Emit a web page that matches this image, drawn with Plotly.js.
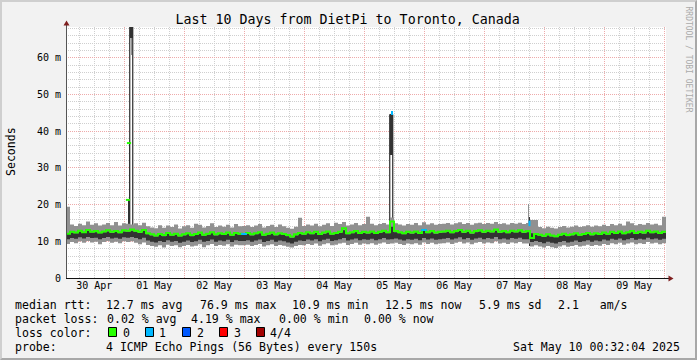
<!DOCTYPE html>
<html><head><meta charset="utf-8">
<script src="https://cdn.plot.ly/plotly-3.0.1.min.js"></script>
<style>
html,body{margin:0;padding:0;background:#f2f2f2;}
#wrap{position:relative;width:697px;height:360px;overflow:hidden;}
#chart{width:697px;height:360px;}
#frame{position:absolute;left:0;top:0;width:697px;height:360px;box-sizing:border-box;border:2px solid;border-color:#cfcfcf #a8a8a8 #a8a8a8 #cfcfcf;pointer-events:none;}
</style></head><body>
<div id="wrap"><div id="chart"></div><div id="frame"></div></div>
<script>
// ---------- DATA (values in ms) ----------
const titleText = "Last 10 Days from DietPi to Toronto, Canada";
const rangeStart = "2025-04-30 00:41:00";
const rangeEnd = "2025-05-10 00:41:00";
const binMinutes = 96; // one value per 96 minutes

const medianRtt = [
12.1,12.6,12.4,12.9,12.5,13.1,12.6,12.8,12.4,12.7,13.0,12.6,12.8,12.5,13.0,
12.9,13.2,
12.9,12.6,13.1,
12.2,11.9,11.6,12.0,11.7,12.3,11.8,12.1,11.6,11.9,12.2,11.7,12.0,12.4,11.8,12.1,12.5,11.9,12.2,12.0,12.4,11.8,12.3,12.1,
12.0,12.3,11.9,12.2,12.5,11.8,12.1,12.4,11.9,12.2,12.0,11.7,11.3,11.9,12.3,
12.1,12.5,12.2,12.6,12.0,12.4,12.7,12.1,12.3,12.6,13.6,12.2,12.5,12.8,12.3,12.6,
12.4,12.7,12.3,12.6,12.9,12.5,
15.4,
12.8,12.5,12.2,12.6,12.4,12.7,12.3,13.1,12.5,12.8,12.4,12.6,
12.7,12.9,12.5,12.8,13.1,12.6,12.9,12.4,12.8,13.0,12.6,12.9,12.7,13.2,12.6,12.8,12.5,12.9,12.7,13.0,12.6,
12.8,10.9,12.0,
11.8,11.5,11.9,11.6,11.4,11.8,12.1,11.7,11.9,12.2,11.8,12.0,12.3,11.9,12.2,12.0,
12.4,12.1,12.6,12.3,12.7,12.2,12.5,12.8,12.3,12.6,12.4,12.9,12.5,12.7,12.3,12.6];

const pingMax = [
19.4,14.6,14.2,14.8,14.4,15.4,14.5,14.9,14.3,14.6,15.0,14.4,15.3,14.3,14.9,
14.8,14.6,
14.9,14.4,15.1,
14.1,13.8,13.6,14.4,13.7,14.3,13.9,14.6,13.5,14.1,14.4,13.7,14.8,14.5,13.8,14.2,14.9,13.9,14.3,14.0,14.5,13.8,14.7,14.1,
14.2,14.4,13.9,14.3,14.7,13.8,14.2,14.5,13.9,14.6,14.1,13.7,13.4,14.0,16.4,
14.2,14.6,14.3,14.8,14.1,14.5,14.9,14.2,15.1,14.7,15.3,14.3,14.6,15.0,14.4,14.7,
16.7,14.8,14.4,14.7,15.0,14.6,
16.5,
14.9,14.6,14.3,14.7,14.5,15.0,14.4,15.2,14.6,14.9,14.5,14.7,
14.8,15.0,14.6,14.9,15.2,14.7,15.0,14.5,14.9,15.1,14.7,15.0,14.8,15.3,14.7,14.9,14.6,15.0,14.8,15.1,14.7,
15.0,15.8,15.8,
13.9,13.6,14.0,13.7,13.5,13.9,14.2,13.8,14.0,14.3,13.9,14.1,14.4,14.0,14.3,14.1,
14.5,14.2,14.7,14.4,14.8,14.3,15.4,14.9,14.4,14.7,14.5,15.0,14.6,14.8,14.4,16.7];

const pingUpper = [
12.0,12.4,12.2,12.6,12.3,12.8,12.4,12.5,12.2,12.5,12.7,12.3,12.6,12.2,12.7,
12.6,12.9,
12.6,12.3,12.8,
11.9,11.6,11.3,11.7,11.4,12.0,11.5,11.8,11.3,11.6,11.9,11.4,11.7,12.1,11.5,11.8,12.2,11.6,11.9,11.7,12.1,11.5,12.0,11.8,
11.9,12.0,11.6,11.9,12.2,11.5,11.8,12.1,11.6,11.9,11.7,11.4,11.0,11.6,12.0,
11.8,12.2,11.9,12.3,11.7,12.1,12.4,11.8,12.0,12.3,13.0,11.9,12.2,12.5,12.0,12.3,
12.1,12.4,12.0,12.3,12.6,12.2,
14.0,
12.5,12.2,11.9,12.3,12.1,12.4,12.0,12.8,12.2,12.5,12.1,12.3,
12.4,12.6,12.2,12.5,12.8,12.3,12.6,12.1,12.5,12.7,12.3,12.6,12.4,12.9,12.3,12.5,12.2,12.6,12.4,12.7,12.3,
12.5,12.2,11.8,
11.5,11.2,11.6,11.3,11.1,11.5,11.8,11.4,11.6,11.9,11.5,11.7,12.0,11.6,11.9,11.7,
12.1,11.8,12.3,12.0,12.4,11.9,12.2,12.5,12.0,12.3,12.1,12.6,12.2,12.4,12.0,12.3];

const pingLower = [
10.6,10.9,10.7,11.1,10.8,11.2,10.9,11.0,10.6,10.9,11.2,10.8,11.0,10.7,11.1,
11.0,11.2,
10.9,10.6,11.0,
10.2,9.9,9.7,10.1,9.8,10.3,9.9,10.1,9.6,9.9,10.2,9.8,10.0,10.4,9.9,10.1,10.5,9.9,10.2,10.0,10.4,9.8,10.3,10.1,
10.1,10.3,9.9,10.2,10.5,9.8,10.1,10.4,9.9,10.2,10.0,9.7,9.4,9.9,10.2,
10.1,10.5,10.2,10.6,10.0,10.4,10.7,10.1,10.3,10.6,10.9,10.2,10.5,10.8,10.3,10.6,
10.4,10.7,10.3,10.6,10.9,10.5,
10.6,
10.8,10.5,10.2,10.6,10.4,10.7,10.3,10.9,10.5,10.8,10.4,10.6,
10.7,10.9,10.5,10.8,11.1,10.6,10.9,10.4,10.8,11.0,10.6,10.9,10.7,11.2,10.6,10.8,10.5,10.9,10.7,11.0,10.6,
10.6,9.8,10.1,
9.8,9.5,9.9,9.6,9.4,9.8,10.1,9.7,9.9,10.2,9.8,10.0,10.3,9.9,10.2,10.0,
10.5,10.2,10.7,10.4,10.8,10.3,10.6,10.9,10.4,10.7,10.5,11.0,10.6,10.8,10.4,10.7];

const pingMin = [
9.3,9.8,9.5,10.0,9.6,10.1,9.7,9.9,9.2,9.8,10.1,9.6,9.9,9.5,10.0,
9.8,10.0,
9.6,9.2,9.7,
9.0,8.7,8.5,8.9,8.3,9.1,8.7,8.9,8.4,8.7,9.0,8.6,8.8,9.2,8.4,8.9,9.3,8.7,9.0,8.8,9.2,8.6,9.1,8.9,
8.9,9.1,8.7,9.0,9.3,8.6,8.9,9.2,8.7,9.0,8.8,8.5,8.3,8.7,9.0,
8.9,9.3,9.0,9.4,8.8,9.2,9.5,8.9,9.1,9.4,9.6,9.0,9.3,9.6,9.1,9.4,
9.2,9.5,9.1,9.4,9.7,9.3,
9.4,
9.6,9.3,9.0,9.4,9.2,9.5,9.1,9.7,9.3,9.6,9.2,9.4,
9.5,9.7,9.3,9.6,9.9,9.4,9.7,9.2,9.6,9.8,9.4,9.7,9.5,10.0,9.4,9.6,9.3,9.7,9.5,9.8,9.4,
9.4,8.6,8.9,
8.6,8.3,8.7,8.4,8.2,8.6,8.9,8.5,8.7,9.0,8.6,8.8,9.1,8.7,9.0,8.8,
9.3,9.0,9.5,9.2,9.6,9.1,9.4,9.7,9.2,9.5,9.3,9.8,9.4,9.6,9.2,9.5];

// bins where pings were lost (index into the arrays above) and how many of 4
const lossBinIndex = [44, 89];
const lossCount = [1, 1];

// tall spikes (one pixel column ~ 24 minutes)
const spikeTimes = ["2025-05-01 02:48", "2025-05-05 10:48"];
const spikeTop = [76.9, 44.6];
const spikeDarkFrom = [65.4, 33.5];
const spikeGrayTimes = ["2025-05-01 02:48"];
const spikeGrayLow = [60.8];
const spikeGrayHigh = [65.4];
const capTimes = ["2025-05-05 11:05"];
const capLow = [44.5];
const capHigh = [45.6];
const preSpikeTimes = ["2025-05-01 01:29", "2025-05-01 01:53"];
const preSpikeTop = [21.3, 36.8];
// small spike on 07 May
const smallSpikeGrayTime = ["2025-05-07 17:41"];
const smallSpikeGrayTop = [20.2];
const smallSpikeDarkTime = ["2025-05-07 18:05"];
const smallSpikeDarkLow = [8.6];
const smallSpikeDarkTop = [16.7];
const smallSpikeMedian = [14.9];
const smallSpikeLoss = [1];

const yTickVals = [0, 10, 20, 30, 40, 50, 60];
const yTickText = ["0", "10 m", "20 m", "30 m", "40 m", "50 m", "60 m"];

const lossColors = ["#26ff00", "#00b8ff", "#0059ff", "#ff0000", "#a10000"];
const lossLabels = ["0", "1", "2", "3", "4/4"];
const rowLabels = ["median rtt:", "packet loss:", "loss color:", "probe:"];
const medianStats = ["12.7 ms avg", "76.9 ms max", "10.9 ms min", "12.5 ms now", "5.9 ms sd", "2.1   am/s"];
const lossStats = ["0.02 % avg", "4.19 % max", "0.00 % min", "0.00 % now"];
const probeText = "4 ICMP Echo Pings (56 Bytes) every 150s";
const dateText = "Sat May 10 00:32:04 2025";
const watermark = "RRDTOOL / TOBI OETIKER";
const yTitle = "Seconds";

// ---------- build ----------
function pad(n){return (n<10?"0":"")+n;}
function fmt(d){return d.getFullYear()+"-"+pad(d.getMonth()+1)+"-"+pad(d.getDate())+" "+pad(d.getHours())+":"+pad(d.getMinutes())+":"+pad(d.getSeconds());}
const t0 = new Date(2025, 3, 30, 0, 41, 0).getTime();
const binMs = binMinutes*60000;
const xs = medianRtt.map((_, i) => fmt(new Date(t0 + i*binMs))).concat([fmt(new Date(t0 + medianRtt.length*binMs))]);
const ext = a => a.concat([a[a.length-1]]);
const mono = "DejaVu Sans Mono";
const SMOKE1 = "#919191", SMOKE2 = "#323232";
const COL = 24*60000; // one pixel column

const traces = [
 {x: xs, y: ext(pingMin), type:"scatter", mode:"lines", line:{width:0, shape:"hv"}, hoverinfo:"skip"},
 {x: xs, y: ext(pingMax), type:"scatter", mode:"lines", line:{width:0, shape:"hv"}, fill:"tonexty", fillcolor:SMOKE1, hoverinfo:"skip"},
 {x: xs, y: ext(pingLower), type:"scatter", mode:"lines", line:{width:0, shape:"hv"}, hoverinfo:"skip"},
 {x: xs, y: ext(pingUpper), type:"scatter", mode:"lines", line:{width:0, shape:"hv"}, fill:"tonexty", fillcolor:SMOKE2, hoverinfo:"skip"},
 {x: xs, y: ext(medianRtt), type:"scatter", mode:"lines", line:{width:2, shape:"hv", color:lossColors[0]}, hoverinfo:"skip"},
 {x: lossBinIndex.map(i => fmt(new Date(t0 + i*binMs + binMs/2))), y: lossBinIndex.map(i => medianRtt[i]),
  type:"scatter", mode:"markers", marker:{symbol:"line-ew", size:4, line:{width:2, color: lossCount.map(c => lossColors[c])}}, hoverinfo:"skip"},
 // small spike
 {x: smallSpikeGrayTime, base: [12], y: smallSpikeGrayTop.map(v => v - 12), type:"bar", width: COL,
  marker:{color:SMOKE1, line:{width:0}}, hoverinfo:"skip"},
 {x: smallSpikeDarkTime, base: smallSpikeDarkLow, y: smallSpikeDarkTop.map((v,i) => v - smallSpikeDarkLow[i]), type:"bar", width: 1.4*COL,
  marker:{color:SMOKE2, line:{width:0}}, hoverinfo:"skip"},
 {x: smallSpikeDarkTime, y: smallSpikeMedian, type:"scatter", mode:"markers",
  marker:{symbol:"line-ns", size:4, line:{width:2, color: smallSpikeLoss.map(c => lossColors[c])}}, hoverinfo:"skip"},
 // tall spikes
 {x: spikeTimes, base: spikeTimes.map(() => 11), y: spikeTop.map(v => v - 11), type:"bar", width: 3*COL,
  marker:{color:"#ffffff", line:{width:1, color:"#000"}}, hoverinfo:"skip"},
 {x: spikeTimes, base: spikeDarkFrom, y: spikeTop.map((v,i) => v - spikeDarkFrom[i]), type:"bar", width: 3*COL,
  marker:{color:SMOKE2, line:{width:0}}, hoverinfo:"skip"},
 {x: spikeGrayTimes, base: spikeGrayLow, y: spikeGrayHigh.map((v,i) => v - spikeGrayLow[i]), type:"bar", width: 1.25*COL,
  marker:{color:SMOKE1, line:{width:0}}, hoverinfo:"skip"},
 {x: capTimes, base: capLow, y: capHigh.map((v,i) => v - capLow[i]), type:"bar", width: 2*COL,
  marker:{color:lossColors[1], line:{width:0}}, hoverinfo:"skip"},
 {x: preSpikeTimes, base: preSpikeTimes.map(() => 12.5), y: preSpikeTop.map(v => v - 12.5), type:"bar", width: COL,
  marker:{color:SMOKE2, line:{width:0}}, hoverinfo:"skip"},
 {x: preSpikeTimes, y: preSpikeTop, type:"scatter", mode:"markers", marker:{symbol:"line-ew", size:3, line:{width:2, color:lossColors[0]}}, hoverinfo:"skip"}
];

// pixel helpers for layout furniture
const L = 66, T = 27, PW = 600, PH = 251;
const px = x => (x - L)/PW;
const py = y => (T + PH - y)/PH;
const nb = s => s.replace(/ /g, "\u00a0");
function txt(x, y, s, size, extra){
  return Object.assign({xref:"paper", yref:"paper", x:px(x), y:py(y), xanchor:"left", yanchor:"middle",
    text:nb(s), showarrow:false, borderpad:0, borderwidth:0, font:{family:mono, size:size||11.55, color:"#000"}}, extra||{});
}
const ann = [];
const rowY = [305.2, 318.9, 332.6, 346.5];
rowLabels.forEach((s,i) => ann.push(txt(15.4, rowY[i], s)));
const medX = [106.1, 199.5, 291.8, 385.1, 478.6, 557.6];
medianStats.forEach((s,i) => ann.push(txt(medX[i], rowY[0], s)));
const lossX = [106.7, 191.3, 279.4, 364.4];
lossStats.forEach((s,i) => ann.push(txt(lossX[i], rowY[1], s)));
const lossLblX = [122.7, 158.8, 196.7, 233.7, 270.2];
lossLabels.forEach((s,i) => ann.push(txt(lossLblX[i], rowY[2], s)));
ann.push(txt(106.3, rowY[3], probeText));
ann.push(txt(512.7, rowY[3], dateText));
ann.push(txt(688.5, 59, watermark, 8, {xanchor:"center", textangle:90, font:{family:mono, size:8, color:"#aaaaaa"}}));
ann.push(txt(11, 152, yTitle, 11.55, {xanchor:"center", textangle:-90}));

const shapes = [];
lossColors.forEach((c,i) => {
  const bx = 108.5 + 37*i;
  shapes.push({type:"rect", xref:"paper", yref:"paper", x0:px(bx), x1:px(bx+8), y0:py(336.5), y1:py(327.5),
    fillcolor:c, line:{color:"#000", width:1}});
});
shapes.push({type:"line", xref:"paper", yref:"paper", x0:px(66.5), x1:px(66.5), y0:py(278), y1:py(24), line:{color:"#555", width:1}});
shapes.push({type:"line", xref:"paper", yref:"paper", x0:px(66), x1:px(669), y0:py(278.5), y1:py(278.5), line:{color:"#111", width:1}});
const P = (x,y) => px(x)+","+py(y);
shapes.push({type:"path", xref:"paper", yref:"paper", path:"M"+P(66.5,20.5)+" L"+P(63.5,25.5)+" L"+P(69.5,25.5)+" Z", fillcolor:"#7f1f1f", line:{width:0}});
shapes.push({type:"path", xref:"paper", yref:"paper", path:"M"+P(673.5,278.5)+" L"+P(668.5,275.5)+" L"+P(668.5,281.5)+" Z", fillcolor:"#7f1f1f", line:{width:0}});

const layout = {
  width:697, height:360, margin:{l:L, r:697-L-PW, t:T, b:360-T-PH, pad:0},
  paper_bgcolor:"#f2f2f2", plot_bgcolor:"#ffffff", showlegend:false, barmode:"overlay", bargap:0,
  title:{text:titleText, font:{family:mono, size:13.3, color:"#000"}, x:347.6/697, xanchor:"center", y:1-19/360, yanchor:"middle", xref:"container", yref:"container"},
  xaxis:{type:"date", range:[rangeStart, rangeEnd], dtick:86400000, tick0:"2025-04-30", tickformat:"%d %b", ticklabelmode:"period",
    showgrid:true, gridcolor:"#eeaaaa", griddash:"1px,1px", gridwidth:1, zeroline:false, showline:false, ticks:"",
    tickfont:{family:mono, size:10, color:"#000"}, fixedrange:true,
    minor:{dtick:21600000, tick0:"2025-04-30", showgrid:true, gridcolor:"#cfcfcf", griddash:"1px,1px", gridwidth:1}},
  yaxis:{range:[0, 68.45], tickmode:"array", tickvals:yTickVals, ticktext:yTickText,
    showgrid:true, gridcolor:"#eeaaaa", griddash:"1px,1px", gridwidth:1, zeroline:false, showline:false, ticks:"",
    ticklabelstandoff:4, tickfont:{family:mono, size:10, color:"#000"}, fixedrange:true,
    minor:{dtick:2, tick0:0, showgrid:true, gridcolor:"#cfcfcf", griddash:"1px,1px", gridwidth:1}},
  annotations:ann, shapes:shapes
};
Plotly.newPlot("chart", traces, layout, {displayModeBar:false, staticPlot:true});
</script></body></html>
